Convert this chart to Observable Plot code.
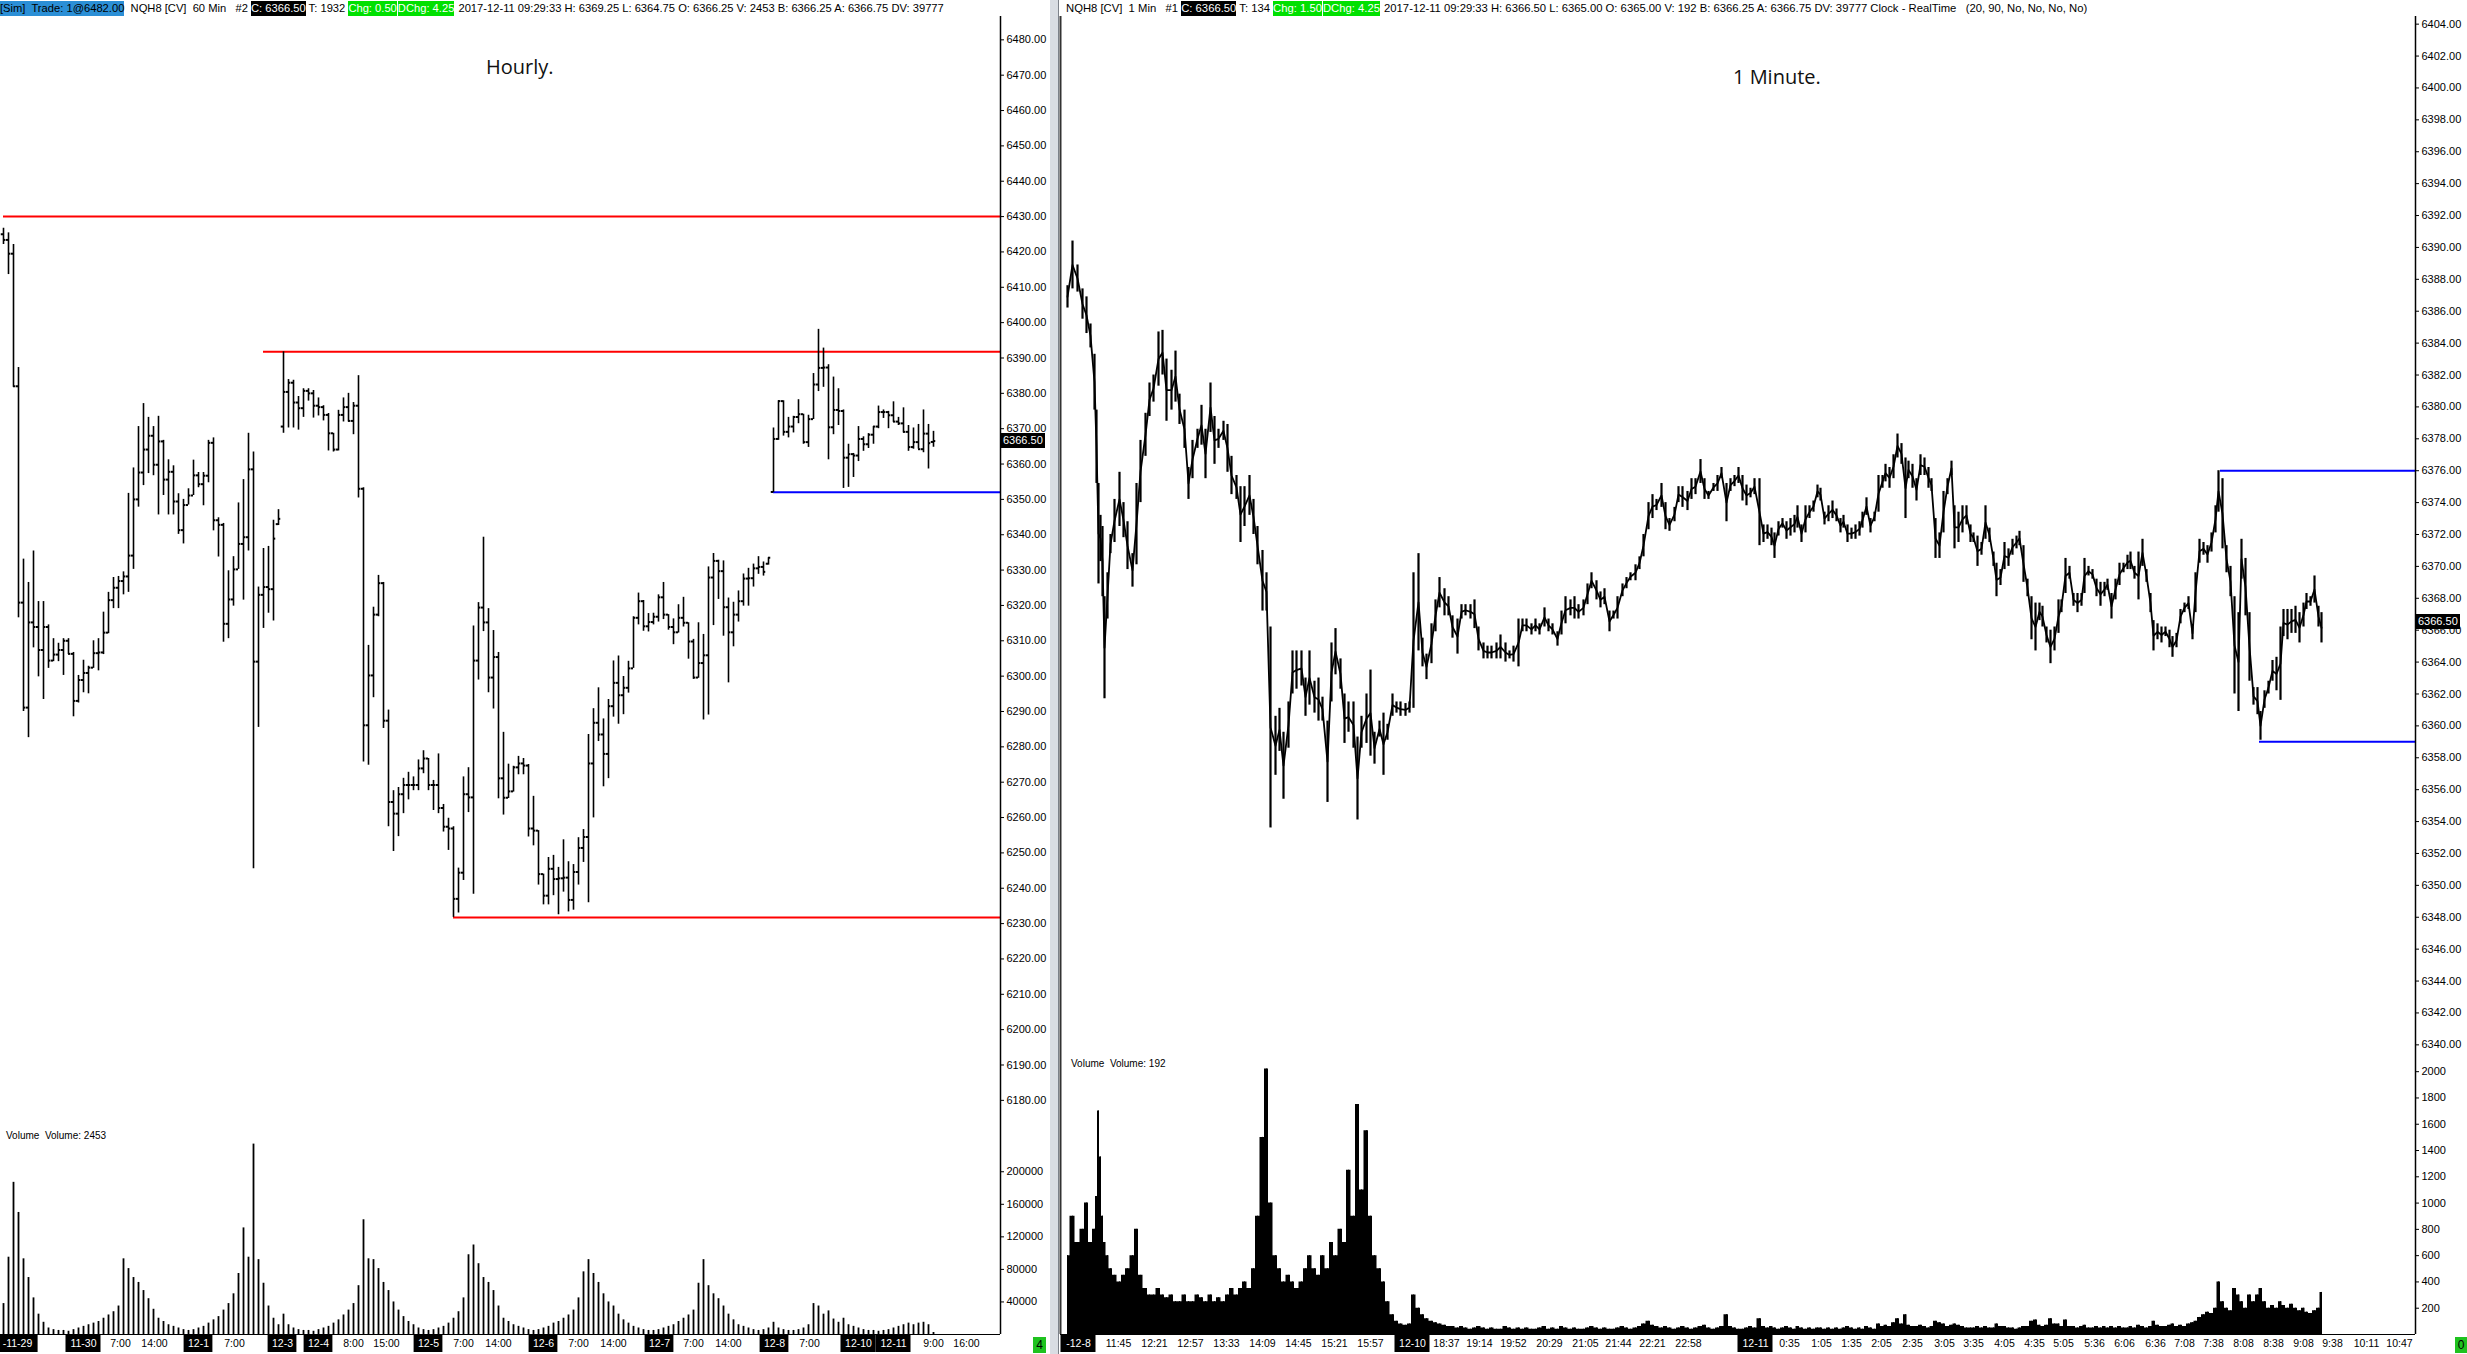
<!DOCTYPE html>
<html><head><meta charset="utf-8">
<script src="https://cdn.jsdelivr.net/npm/d3@7"></script>
<script src="https://cdn.jsdelivr.net/npm/@observablehq/plot@0.6"></script>
<style>
html,body{margin:0;padding:0;background:#fff}
#root{position:relative;width:2467px;height:1354px;overflow:hidden;background:#fff;font-family:"Liberation Sans",Arial,sans-serif}
.hdr{position:absolute;top:1px;height:15px;line-height:15px;font-size:11.3px;white-space:pre;color:#000;width:max-content}
.hdr span{display:inline-block;height:15px}
.blk{background:#000;color:#fff}
.grn{background:#00e000;color:#fff;margin-right:1px}
.blu{background:#2b8fd6;color:#000}
.ttl{position:absolute;font-family:"Open Sans",sans-serif;font-size:20px;color:#111;white-space:pre}
.vlab{position:absolute;font-size:10px;color:#000;white-space:pre}
.pbox{position:absolute;background:#000;color:#fff;font-size:11px;height:15px;line-height:15px;padding:0 2px}
.gbox{position:absolute;background:#1fc21f;color:#000;font-size:12px;height:16px;line-height:16px;text-align:center}
.abs{position:absolute}
</style></head><body><div id="root"></div>
<script>
// ---------------- DATA ----------------
const leftHeader = [["blu","[Sim]  Trade: 1@6482.00"],["","  NQH8 [CV]  60 Min   #2 "],["blk","C: 6366.50"],[""," T: 1932 "],["grn","Chg: 0.50"],["grn","DChg: 4.25"],[""," 2017-12-11 09:29:33 H: 6369.25 L: 6364.75 O: 6366.25 V: 2453 B: 6366.25 A: 6366.75 DV: 39777"]];
const rightHeader = [["","NQH8 [CV]  1 Min   #1 "],["blk","C: 6366.50"],[""," T: 134 "],["grn","Chg: 1.50"],["grn","DChg: 4.25"],[""," 2017-12-11 09:29:33 H: 6366.50 L: 6365.00 O: 6365.00 V: 192 B: 6366.25 A: 6366.75 DV: 39777 Clock - RealTime   (20, 90, No, No, No, No)"]];
const leftTitle = "Hourly.";
const rightTitle = "1 Minute.";
const leftVolLabel = "Volume  Volume: 2453";
const rightVolLabel = "Volume  Volume: 192";
const lastPrice = 6366.5;

// Hourly (60 min) OHLC bars
const lOpen = [6425.0,6423.4,6419.5,6382.0,6320.8,6291.1,6315.2,6313.9,6307.4,6313.9,6304.4,6306.1,6307.4,6310.0,6306.3,6293.0,6298.9,6300.9,6302.4,6306.5,6306.7,6312.3,6321.5,6325.0,6326.9,6328.2,6334.1,6350.0,6357.6,6364.1,6368.0,6359.8,6366.4,6355.6,6357.8,6349.4,6341.3,6348.4,6351.1,6356.8,6354.3,6356.7,6366.0,6344.1,6342.8,6314.8,6321.7,6330.2,6337.4,6339.3,6358.5,6304.1,6323.0,6325.2,6324.6,6343.0,6370.6,6380.4,6383.0,6377.4,6375.8,6380.7,6380.0,6376.5,6376.1,6373.9,6368.7,6364.1,6373.9,6376.1,6372.2,6376.5,6353.0,6286.1,6300.2,6317.4,6326.3,6287.4,6264.4,6261.1,6266.6,6269.2,6269.2,6269.2,6273.9,6276.7,6269.2,6269.2,6262.7,6257.4,6256.9,6237.0,6244.4,6266.6,6265.7,6304.4,6319.4,6315.2,6299.6,6305.4,6271.1,6265.6,6267.4,6274.2,6275.3,6274.7,6256.9,6256.3,6244.0,6237.9,6245.5,6242.6,6242.8,6243.0,6236.7,6244.6,6251.4,6254.5,6275.3,6286.8,6283.5,6278.0,6291.5,6298.1,6294.6,6296.7,6302.2,6316.5,6321.2,6314.1,6315.3,6316.8,6322.3,6317.4,6313.9,6312.4,6316.5,6315.1,6309.8,6299.6,6303.7,6305.9,6327.9,6332.6,6329.7,6319.5,6312.4,6317.4,6321.2,6327.6,6327.7,6330.5,6330.9,6331.8,6352.1,6367.1,6377.8,6369.1,6370.6,6373.3,6374.1,6366.2,6372.7,6382.5,6387.2,6387.3,6370.4,6375.3,6375.0,6361.8,6362.8,6362.4,6367.1,6365.6,6368.3,6370.6,6374.7,6374.7,6373.8,6372.0,6371.5,6369.1,6364.8,6366.2,6364.2,6368.6,6366.25];
const lHigh = [6426.7,6425.4,6422.1,6387.3,6333.1,6326.5,6335.4,6321.1,6321.1,6314.5,6310.6,6309.3,6310.6,6310.6,6306.7,6300.2,6304.5,6302.8,6310.0,6310.6,6318.1,6323.7,6327.9,6328.2,6329.5,6351.7,6358.9,6370.6,6377.1,6373.2,6370.6,6373.5,6366.7,6361.2,6359.5,6351.6,6350.0,6353.0,6361.1,6357.6,6357.6,6366.7,6367.4,6344.8,6343.2,6329.8,6333.8,6349.0,6355.6,6368.7,6363.4,6325.2,6336.1,6336.7,6344.1,6347.1,6391.75,6383.9,6383.7,6379.1,6381.3,6381.3,6380.8,6378.7,6376.5,6374.3,6368.7,6375.2,6378.7,6380.0,6377.4,6385.0,6353.3,6308.7,6319.5,6328.5,6326.5,6290.4,6267.6,6268.5,6271.1,6272.8,6271.5,6276.3,6278.9,6276.7,6270.5,6278.0,6263.7,6259.8,6257.4,6245.7,6271.5,6274.1,6314.2,6320.8,6339.3,6319.1,6312.9,6306.7,6284.1,6275.1,6274.5,6277.3,6276.7,6275.0,6266.0,6256.3,6244.0,6248.7,6249.3,6245.9,6253.7,6247.5,6246.7,6254.3,6256.6,6283.5,6290.8,6296.7,6287.9,6293.4,6304.3,6305.7,6299.9,6304.2,6316.8,6323.5,6321.4,6317.7,6317.8,6323.0,6326.5,6317.4,6316.2,6320.2,6322.3,6315.1,6310.4,6315.1,6311.8,6330.9,6334.7,6332.8,6332.6,6322.1,6320.9,6324.1,6328.9,6330.5,6331.7,6333.8,6332.3,6333.5,6370.2,6377.9,6377.9,6373.2,6373.5,6378.2,6374.1,6373.8,6385.6,6398.1,6392.8,6388.1,6384.6,6381.3,6375.3,6365.6,6363.0,6370.6,6367.7,6368.6,6370.6,6376.4,6375.3,6374.9,6377.6,6373.2,6375.9,6370.9,6370.2,6371.2,6375.3,6371.2,6369.25];
const lLow = [6422.1,6413.6,6381.7,6316.5,6290.0,6282.6,6308.0,6299.8,6293.4,6302.2,6304.1,6304.1,6300.2,6306.1,6288.5,6292.4,6295.3,6295.0,6302.2,6301.5,6306.1,6312.0,6319.1,6319.1,6323.0,6323.7,6330.2,6347.8,6353.9,6357.3,6356.7,6345.6,6351.1,6345.6,6345.6,6340.1,6337.4,6348.4,6351.1,6353.3,6348.2,6354.7,6341.1,6333.7,6309.6,6310.6,6319.8,6330.2,6321.5,6335.4,6245.5,6285.5,6313.5,6317.8,6315.6,6342.6,6368.7,6370.2,6370.2,6369.6,6373.2,6377.8,6373.0,6373.6,6372.2,6363.7,6363.4,6363.7,6371.9,6371.9,6368.3,6350.4,6275.7,6274.8,6293.9,6316.8,6285.2,6257.4,6250.4,6254.6,6261.1,6265.0,6267.6,6267.6,6272.4,6267.6,6262.0,6261.1,6255.9,6250.7,6231.75,6233.0,6242.2,6261.4,6238.3,6298.9,6312.6,6295.3,6290.7,6265.3,6260.7,6265.4,6267.2,6272.1,6272.1,6254.5,6252.0,6240.9,6235.3,6235.3,6237.9,6232.5,6238.9,6233.3,6233.8,6240.9,6247.3,6235.9,6259.9,6281.5,6268.7,6271.0,6288.4,6286.4,6289.1,6295.2,6302.2,6314.5,6312.7,6312.5,6314.5,6315.3,6316.0,6313.0,6308.9,6312.2,6313.9,6304.8,6299.1,6299.4,6287.6,6289.0,6314.3,6321.7,6311.3,6298.1,6308.3,6315.3,6319.8,6319.8,6325.2,6328.8,6328.3,6331.4,6351.9,6366.7,6367.9,6367.4,6368.8,6371.4,6365.6,6364.7,6372.6,6380.5,6381.7,6361.2,6368.3,6370.9,6353.1,6353.4,6356.2,6360.7,6363.6,6364.4,6365.6,6370.0,6372.9,6370.0,6371.8,6370.9,6368.8,6363.6,6364.2,6364.2,6363.2,6358.6,6364.75];
const lClose = [6423.4,6419.5,6382.0,6320.8,6291.1,6315.2,6313.9,6307.4,6313.9,6304.4,6306.1,6307.4,6310.0,6306.3,6293.0,6298.9,6300.9,6302.4,6306.5,6306.7,6312.3,6321.5,6325.0,6326.9,6328.2,6334.1,6350.0,6357.6,6364.1,6368.0,6359.8,6366.4,6355.6,6357.8,6349.4,6341.3,6348.4,6351.1,6356.8,6354.3,6356.7,6366.0,6344.1,6342.8,6314.8,6321.7,6330.2,6337.4,6339.3,6358.5,6304.1,6323.0,6325.2,6324.6,6338.9,6344.5,6380.4,6383.0,6377.4,6375.8,6380.7,6380.0,6376.5,6376.1,6373.9,6368.7,6364.1,6373.9,6376.1,6372.2,6376.5,6353.0,6286.1,6300.2,6317.4,6326.3,6287.4,6264.4,6261.1,6266.6,6269.2,6269.2,6269.2,6273.9,6276.7,6269.2,6269.2,6262.7,6257.4,6256.9,6237.0,6244.4,6266.6,6265.7,6304.4,6319.4,6315.2,6299.6,6305.4,6271.1,6265.6,6267.4,6274.2,6275.3,6274.7,6256.9,6256.3,6244.0,6237.9,6245.5,6242.6,6242.8,6243.0,6236.7,6244.6,6251.4,6254.5,6275.3,6286.8,6283.5,6278.0,6291.5,6298.1,6294.6,6296.7,6302.2,6316.5,6321.2,6314.1,6315.3,6316.8,6322.3,6317.4,6313.9,6312.4,6316.5,6315.1,6309.8,6299.6,6303.7,6305.9,6327.9,6332.6,6329.7,6319.5,6312.4,6317.4,6321.2,6327.6,6327.7,6330.5,6330.9,6329.5,6333.5,6367.1,6377.8,6369.1,6370.6,6373.3,6374.1,6366.2,6372.7,6382.5,6387.2,6387.3,6370.4,6375.3,6375.0,6361.8,6362.8,6362.4,6367.1,6365.6,6368.3,6370.6,6374.7,6374.7,6373.8,6372.0,6371.5,6369.1,6364.8,6366.2,6364.2,6368.6,6365.9,6366.5];
const lVol = [38000,95000,187000,150000,93000,70000,45000,25000,15000,8000,6000,5000,5000,4000,6000,8000,10000,12000,14000,16000,20000,24000,28000,35000,93000,81000,70000,64000,54000,44000,31000,20000,16000,12000,10000,8000,6000,5000,6000,8000,10000,14000,18000,22000,30000,38000,50000,75000,131000,95000,234000,92000,63000,35000,20000,12000,25000,12000,8000,6000,5000,5000,4000,6000,8000,10000,14000,18000,24000,30000,38000,60000,141000,93000,92000,81000,64000,54000,40000,30000,22000,16000,12000,8000,6000,5000,6000,8000,10000,14000,20000,28000,45000,98000,110000,87000,70000,64000,54000,35000,20000,16000,12000,10000,8000,6000,5000,6000,8000,10000,14000,16000,20000,24000,30000,45000,77000,92000,75000,64000,50000,40000,35000,25000,18000,14000,10000,8000,6000,5000,5000,6000,8000,10000,12000,16000,20000,24000,30000,63000,92000,60000,50000,44000,35000,25000,18000,12000,10000,8000,6000,5000,6000,8000,15000,8000,6000,5000,5000,6000,8000,12000,38000,35000,25000,29000,19000,15000,20000,12000,10000,8000,6000,5000,5000,4000,5000,6000,8000,10000,12000,14000,12000,14000,15000,12000,2453];
const lRedLevel = [6430, 6391.75, 6231.75];
const lRedFrom = [0, 52, 90];
const lBlueLevel = [6352];
const lBlueFrom = [154];
const lPriceTicks = d3.range(6180, 6481, 10);
const lVolTicks = [40000, 80000, 120000, 160000, 200000];
const lTimeText = ["-11-29","11-30","7:00","14:00","12-1","7:00","12-3","12-4","8:00","15:00","12-5","7:00","14:00","12-6","7:00","14:00","12-7","7:00","14:00","12-8","7:00","12-10","12-11","9:00","16:00"];
const lTimeAt = [2.8,16,23.4,30.2,39,46.2,55.8,63,70,76.6,85,92,99,108,115,122,131.2,138,145,154.2,161.2,171,178,186,192.6];

// 1-minute chart, read as ranges per ~4-minute slice (minute index from first bar)
const rMin = [2,7,12,17,21,25,29,31,33,35,37,39,42,45,49,54,58,62,67,71,75,80,84,88,93,97,101,106,110,114,119,123,127,132,136,140,145,149,153,158,162,166,171,175,179,184,188,192,197,201,205,210,214,218,223,227,231,236,240,244,249,253,257,262,266,270,275,279,283,288,292,296,301,305,309,314,318,322,327,331,335,340,344,348,353,357,361,366,370,374,379,383,387,392,396,400,405,409,413,418,422,426,431,435,440,444,448,453,457,461,466,470,474,479,483,487,492,496,500,505,509,513,518,522,526,531,535,539,544,548,552,557,561,565,570,574,578,583,587,591,596,600,604,609,613,617,622,626,630,635,639,643,648,652,656,661,665,669,673,677,681,685,689,694,698,702,706,709,713,717,721,725,729,732,736,740,744,748,752,755,759,763,767,771,775,778,782,786,790,794,797,801,805,809,813,817,820,824,828,832,836,840,843,847,851,855,859,863,866,870,874,878,882,886,889,893,897,901,905,908,912,916,920,924,928,931,935,939,943,947,951,954,958,962,966,970,974,977,981,985,989,993,996,1000,1004,1008,1012,1016,1019,1023,1027,1031,1035,1039,1042,1046,1050,1054,1058,1062,1065,1069,1073,1077,1081,1085,1088,1092,1096,1100,1104,1107,1111,1115,1119,1123,1127,1130,1134,1138,1142,1146,1150,1153,1157,1161,1165,1169,1173,1176,1180,1184,1188,1192,1195,1199,1203,1207,1211,1215,1218,1222,1226,1230,1234,1238,1241,1245,1249,1253,1256];
const rHigh = [6387.6,6390.4,6388.9,6387.4,6386.9,6385.2,6383.3,6379.8,6375.2,6373.2,6372.5,6368.1,6369.6,6372.0,6374.2,6375.9,6374.0,6372.8,6370.8,6375.2,6377.9,6379.6,6381.5,6382.0,6384.7,6384.8,6383.0,6382.3,6383.5,6380.8,6379.8,6376.2,6377.9,6378.6,6380.1,6378.6,6381.5,6379.4,6378.6,6379.1,6378.9,6376.9,6375.7,6375.0,6375.0,6375.7,6374.2,6372.5,6371.0,6369.6,6366.2,6360.6,6361.1,6359.6,6361.5,6364.7,6364.7,6364.7,6363.0,6364.7,6362.8,6363.0,6361.8,6360.3,6365.2,6366.1,6364.2,6362.0,6361.5,6361.5,6359.3,6360.6,6362.0,6363.5,6359.6,6360.3,6360.8,6360.1,6362.0,6361.5,6361.5,6361.4,6361.5,6369.6,6370.8,6365.5,6364.5,6366.4,6367.9,6369.3,6368.6,6368.1,6366.9,6366.7,6367.6,6367.6,6367.6,6367.9,6366.2,6365.2,6365.0,6365.0,6365.2,6365.7,6365.2,6364.7,6365.0,6366.7,6366.7,6366.7,6366.4,6366.7,6366.4,6367.4,6366.7,6366.4,6365.9,6367.2,6368.1,6367.9,6368.1,6367.6,6367.9,6368.9,6369.6,6369.1,6368.4,6368.6,6367.2,6367.2,6368.1,6368.9,6369.3,6369.6,6370.1,6370.6,6372.0,6374.0,6374.5,6374.2,6375.2,6374.0,6373.0,6373.7,6375.0,6375.0,6374.7,6375.5,6375.5,6376.7,6375.5,6374.7,6375.2,6375.7,6376.2,6375.2,6375.5,6375.7,6376.2,6375.7,6375.1,6374.9,6375.5,6375.5,6372.6,6372.6,6372.4,6372.1,6372.8,6373.0,6372.8,6373.0,6373.2,6373.8,6372.6,6373.8,6373.8,6374.1,6375.1,6374.9,6373.4,6373.8,6374.1,6373.6,6373.0,6373.2,6372.6,6372.4,6372.6,6372.8,6373.4,6374.3,6373.0,6373.4,6375.7,6375.7,6376.4,6376.2,6377.0,6378.3,6377.7,6376.8,6376.6,6376.4,6375.5,6377.0,6376.8,6376.2,6375.5,6373.0,6372.1,6374.7,6375.5,6376.6,6373.8,6373.4,6373.8,6373.8,6372.6,6372.1,6371.9,6371.5,6373.8,6372.4,6370.9,6370.2,6369.8,6371.5,6371.1,6371.7,6371.9,6372.2,6371.3,6369.2,6368.1,6367.7,6367.7,6367.5,6366.2,6366.0,6366.2,6367.9,6367.9,6370.5,6370.0,6368.3,6368.3,6368.3,6370.5,6370.0,6369.8,6369.2,6369.0,6369.0,6369.2,6368.3,6369.2,6370.2,6370.2,6370.7,6370.9,6370.0,6370.9,6371.7,6369.8,6368.3,6366.6,6366.4,6366.2,6366.2,6366.0,6365.6,6365.8,6367.3,6367.7,6368.1,6366.2,6369.6,6371.7,6371.5,6371.3,6372.1,6373.8,6376.0,6375.5,6371.3,6370.0,6368.1,6367.1,6371.7,6370.5,6367.1,6362.4,6362.4,6360.9,6362.2,6362.8,6364.1,6364.3,6366.2,6367.3,6367.3,6367.3,6367.5,6367.1,6367.7,6368.3,6368.1,6369.4,6367.5,6367.1];
const rLow = [6386.2,6387.4,6387.2,6385.5,6384.6,6383.7,6379.8,6375.2,6368.9,6370.3,6368.1,6361.7,6366.7,6370.8,6371.5,6372.5,6371.8,6369.8,6368.7,6370.1,6374.0,6376.9,6379.4,6380.3,6381.3,6382.0,6379.1,6379.8,6380.3,6378.9,6377.4,6374.2,6375.5,6377.4,6377.6,6375.5,6378.4,6376.4,6377.4,6377.9,6375.9,6374.5,6374.2,6371.5,6372.5,6373.2,6372.0,6370.1,6367.2,6367.2,6353.6,6356.9,6358.4,6355.4,6358.6,6362.0,6362.3,6362.5,6360.6,6361.3,6360.8,6360.3,6360.3,6355.2,6361.5,6363.2,6362.3,6358.9,6359.6,6358.6,6354.1,6358.6,6358.9,6358.1,6357.6,6359.3,6356.9,6359.1,6360.6,6360.8,6360.6,6360.6,6360.8,6361.1,6364.7,6363.7,6362.9,6363.9,6365.9,6367.4,6366.9,6366.9,6365.5,6364.5,6366.7,6366.9,6366.7,6366.1,6364.7,6364.2,6364.2,6364.2,6364.2,6364.2,6364.0,6364.2,6364.0,6363.7,6365.9,6365.9,6365.7,6365.9,6365.7,6366.2,6365.9,6365.7,6365.0,6365.7,6366.4,6366.9,6366.7,6366.7,6366.9,6367.6,6368.6,6367.9,6367.4,6367.6,6365.9,6366.7,6366.7,6368.1,6368.6,6369.1,6369.1,6369.8,6370.6,6372.3,6373.0,6373.5,6373.7,6372.3,6372.2,6372.8,6374.0,6373.7,6373.5,6374.2,6374.5,6375.2,6374.2,6374.2,6374.7,6374.7,6375.5,6372.8,6374.7,6375.0,6375.2,6374.1,6373.8,6374.3,6374.5,6371.3,6371.5,6371.7,6371.3,6370.5,6371.9,6372.4,6371.7,6371.9,6372.1,6372.4,6371.5,6372.1,6373.0,6373.4,6374.3,6374.1,6372.6,6372.8,6373.0,6372.8,6372.1,6372.4,6371.5,6371.7,6371.7,6371.9,6372.4,6373.2,6372.1,6372.8,6373.4,6374.9,6375.3,6374.9,6375.5,6376.8,6376.4,6373.0,6375.5,6374.9,6374.1,6375.7,6375.7,6374.9,6374.7,6370.5,6370.5,6372.1,6374.5,6375.7,6371.1,6371.5,6372.1,6372.6,6371.5,6371.5,6370.0,6370.7,6371.7,6371.5,6370.0,6368.1,6368.8,6369.8,6370.0,6370.7,6371.1,6371.3,6369.0,6368.1,6365.4,6364.7,6366.6,6366.2,6365.2,6363.9,6364.7,6365.8,6367.1,6368.3,6369.2,6367.5,6367.1,6367.5,6368.3,6369.4,6369.2,6368.1,6367.5,6368.1,6368.5,6366.7,6367.9,6368.8,6369.6,6369.8,6369.8,6369.2,6367.9,6370.0,6369.0,6367.1,6364.7,6365.4,6365.2,6365.6,6364.9,6364.3,6364.9,6366.4,6367.1,6367.3,6365.4,6367.1,6370.2,6370.7,6370.2,6370.9,6372.1,6373.4,6371.1,6369.6,6368.1,6362.0,6360.9,6369.2,6366.9,6362.8,6361.3,6360.7,6359.1,6361.1,6362.0,6362.8,6362.2,6361.6,6365.6,6365.4,6365.8,6365.8,6365.2,6366.2,6367.3,6367.5,6367.7,6366.2,6365.2];
const rVol = [600,900,700,800,1000,700,800,1050,1700,1350,900,700,600,500,450,400,450,500,600,800,450,350,300,300,350,300,280,300,250,250,300,250,250,300,280,250,300,250,280,250,300,350,300,350,400,350,500,900,1500,2020,1000,600,500,400,450,400,350,400,500,600,500,450,600,500,700,600,800,700,1250,900,1750,1100,1550,900,600,500,400,250,150,100,80,70,80,300,200,150,120,100,90,80,70,60,60,50,60,50,40,50,60,50,40,50,40,40,60,50,40,50,40,50,40,40,50,60,40,50,40,60,50,40,50,40,40,50,60,50,40,50,40,40,50,60,50,40,50,60,80,100,70,60,50,60,50,40,50,60,50,40,50,60,70,50,40,50,60,150,60,50,40,40,50,60,50,120,60,50,60,50,40,50,60,50,40,60,50,40,50,40,50,50,40,50,40,50,40,50,60,50,40,50,40,60,50,40,80,60,70,60,90,120,80,150,70,60,60,70,60,50,60,100,90,80,60,70,80,70,60,50,50,50,60,50,60,50,50,80,60,60,50,50,40,50,60,60,100,110,70,60,70,120,80,80,60,110,60,60,50,60,70,50,50,60,50,60,50,60,50,60,50,50,60,50,70,60,50,60,100,70,60,60,70,80,60,70,60,80,90,100,130,150,170,160,200,400,250,200,180,350,300,250,200,300,250,300,350,250,200,220,200,250,220,200,230,200,180,200,170,160,180,200,320];
const rBlueLevel = [6376, 6359];
const rBlueFrom = [1155, 1194];
const rPriceTicks = d3.range(6340, 6405, 2);
const rVolTicks = d3.range(200, 2001, 200);
const rTimeText = ["-12-8","11:45","12:21","12:57","13:33","14:09","14:45","15:21","15:57","12-10","18:37","19:14","19:52","20:29","21:05","21:44","22:21","22:58","12-11","0:35","1:05","1:35","2:05","2:35","3:05","3:35","4:05","4:35","5:05","5:36","6:06","6:36","7:08","7:38","8:08","8:38","9:08","9:38","10:11","10:47"];
const rTimeAt = [13,53,89,125,161,197,233,269,305,347,381,414,448,484,520,553,587,623,690,724,756,786,816,847,879,908,939,969,998,1029,1059,1090,1119,1148,1178,1208,1238,1267,1301,1334];

// ---------------- RENDER ----------------
const root = document.getElementById("root");
function put(el, left, top) { el.style.position = "absolute"; el.style.left = left + "px"; el.style.top = top + "px"; root.appendChild(el); return el; }
function div(cls, text) { const d = document.createElement("div"); d.className = cls; if (text != null) d.textContent = text; return d; }
const S = {background: "transparent", color: "#000", fontFamily: "'Liberation Sans', Arial, sans-serif", fontSize: "11px", overflow: "visible"};

const sep = div("abs"); sep.style.cssText += "width:8px;height:1354px;background:#d9dde3;border-right:1px solid #7d828a"; put(sep, 1050, 0);

// header line fitted to the width it spans in the original
function header(parts, left, targetWidth) {
  const h = div("hdr");
  parts.forEach(([c, t]) => { const s = document.createElement("span"); if (c) s.className = c; s.textContent = t; h.appendChild(s); });
  put(h, left, 1);
  let fs = 11;
  for (let k = 0; k < 4; k++) {
    h.style.fontSize = fs + "px";
    const w = h.getBoundingClientRect().width;
    if (w > 0) fs = fs * targetWidth / w;
  }
  h.style.fontSize = fs + "px";
}

// ---- left (hourly) ----
const LX = [-0.6, 199.4];
const lBars = lOpen.map((o, i) => ({i, o, h: lHigh[i], l: lLow[i], c: lClose[i]}));
const lRed = lRedLevel.map((p, k) => ({p, s: lRedFrom[k]}));
const lBlue = lBlueLevel.map((p, k) => ({p, s: lBlueFrom[k]}));
const leftPrice = Plot.plot({
  width: 1050, height: 1104, marginTop: 0, marginBottom: 0, marginLeft: 0, marginRight: 50,
  x: {domain: LX, axis: null}, y: {domain: [6174.3, 6486.6], axis: null}, style: S,
  marks: [
    Plot.ruleY(lRed, {y: "p", x1: "s", x2: LX[1], stroke: "#ff0000", strokeWidth: 2}),
    Plot.ruleY(lBlue, {y: "p", x1: "s", x2: LX[1], stroke: "#0000ff", strokeWidth: 2}),
    Plot.ruleX(lBars, {x: "i", y1: "l", y2: "h", stroke: "#000", strokeWidth: 1.6}),
    Plot.ruleY(lBars, {y: "o", x1: d => d.i - 0.45, x2: "i", stroke: "#000", strokeWidth: 2}),
    Plot.ruleY(lBars, {y: "c", x1: "i", x2: d => d.i + 0.45, stroke: "#000", strokeWidth: 2}),
    Plot.ruleX([LX[1]], {stroke: "#000", strokeWidth: 1.5}),
    Plot.axisY({anchor: "right", label: null, ticks: lPriceTicks, tickFormat: d => d.toFixed(2), tickSize: 3, tickPadding: 3})
  ]
});
put(leftPrice, 0, 16);

const lVolData = lVol.map((v, i) => ({i, v}));
const leftVol = Plot.plot({
  width: 1050, height: 214, marginTop: 0, marginBottom: 0, marginLeft: 0, marginRight: 50,
  x: {domain: LX, axis: null}, y: {domain: [0, 263000], axis: null}, style: S,
  marks: [
    Plot.ruleX(lVolData, {x: "i", y1: 0, y2: "v", stroke: "#000", strokeWidth: 1.8}),
    Plot.ruleX([LX[1]], {stroke: "#000", strokeWidth: 1.5}),
    Plot.ruleY([0], {x1: LX[0], x2: LX[1], stroke: "#000", strokeWidth: 1}),
    Plot.axisY({anchor: "right", label: null, ticks: lVolTicks, tickFormat: d => String(d), tickSize: 3, tickPadding: 3})
  ]
});
put(leftVol, 0, 1120);

function timeStrip(texts, at, domain, width, mRight, pxPerUnit) {
  const data = texts.map((t, k) => ({t, x: at[k], box: t.includes("-")}));
  const boxes = data.filter(d => d.box);
  return Plot.plot({
    width, height: 20, marginTop: 0, marginBottom: 0, marginLeft: 0, marginRight: mRight,
    x: {domain, axis: null}, y: {domain: [0, 1], axis: null}, style: {...S, fontSize: "10.5px"},
    marks: [
      Plot.rect(boxes, {x1: d => d.x - (d.t.length * 6.2 + 4) / 2 / pxPerUnit, x2: d => d.x + (d.t.length * 6.2 + 4) / 2 / pxPerUnit, y1: 0.1, y2: 0.95, fill: "#000"}),
      Plot.text(data, {x: "x", y: 0.52, text: "t", fill: d => d.box ? "#fff" : "#000", fontSize: 10.5})
    ]
  });
}
put(timeStrip(lTimeText, lTimeAt, LX, 1050, 50, 5), 0, 1334);

const lpY = leftPrice.scale("y").apply(lastPrice);
put(div("pbox", lastPrice.toFixed(2)), 1001, 16 + lpY - 7.5);

// ---- right (1 minute) ----
const RX = [-5, 1350];
const rBins = rMin.map((m, k) => ({m, lo: rLow[k], hi: rHigh[k], mid: (rLow[k] + rHigh[k]) / 2}));
const rLines = rBlueLevel.map((p, k) => ({p, s: rBlueFrom[k]}));
const rightPrice = Plot.plot({
  width: 1407, height: 1036, marginTop: 0, marginBottom: 0, marginLeft: 0, marginRight: 52,
  x: {domain: RX, axis: null}, y: {domain: [6339.52, 6404.48], axis: null}, style: S,
  marks: [
    Plot.ruleY(rLines, {y: "p", x1: "s", x2: RX[1], stroke: "#0000ff", strokeWidth: 2}),
    Plot.ruleX(rBins, {x: "m", y1: "lo", y2: "hi", stroke: "#000", strokeWidth: 2.2}),
    Plot.line(rBins, {x: "m", y: "mid", stroke: "#000", strokeWidth: 1.8}),
    Plot.ruleX([RX[0]], {stroke: "#333", strokeWidth: 2}),
    Plot.ruleX([RX[1]], {stroke: "#000", strokeWidth: 1.5}),
    Plot.axisY({anchor: "right", label: null, ticks: rPriceTicks, tickFormat: d => d.toFixed(2), tickSize: 3, tickPadding: 3})
  ]
});
put(rightPrice, 1060, 16);

const rVolData = rMin.map((m, k) => ({m, v: rVol[k]}));
const rightVol = Plot.plot({
  width: 1407, height: 282, marginTop: 0, marginBottom: 0, marginLeft: 0, marginRight: 52,
  x: {domain: RX, axis: null}, y: {domain: [0, 2146], axis: null}, style: S,
  marks: [
    Plot.areaY(rVolData, {x: "m", y: "v", curve: "step", fill: "#000"}),
    Plot.ruleX(rVolData, {x: "m", y1: 0, y2: "v", stroke: "#000", strokeWidth: 1}),
    Plot.ruleX([RX[0]], {stroke: "#333", strokeWidth: 2}),
    Plot.ruleX([RX[1]], {stroke: "#000", strokeWidth: 1.5}),
    Plot.ruleY([0], {x1: RX[0], x2: RX[1], stroke: "#000", strokeWidth: 1}),
    Plot.axisY({anchor: "right", label: null, ticks: rVolTicks, tickFormat: d => String(d), tickSize: 3, tickPadding: 3})
  ]
});
put(rightVol, 1060, 1052);
put(timeStrip(rTimeText, rTimeAt, RX, 1407, 52, 1), 1060, 1334);

const rpY = rightPrice.scale("y").apply(lastPrice);
put(div("pbox", lastPrice.toFixed(2)), 2416, 16 + rpY - 7.5);

// headers last so they sit above the plots
header(leftHeader, 0, 943);
header(rightHeader, 1066, 1022);

const t1 = put(div("ttl", leftTitle), 0, 53); t1.style.left = (520 - t1.offsetWidth / 2) + "px";
const t2 = put(div("ttl", rightTitle), 0, 63); t2.style.left = (1777 - t2.offsetWidth / 2) + "px";
put(div("vlab", leftVolLabel), 6, 1130);
put(div("vlab", rightVolLabel), 1071, 1058);
const g1 = put(div("gbox", "4"), 1033, 1337); g1.style.width = "13px";
const g2 = put(div("gbox", "0"), 2455, 1337); g2.style.width = "12px";
</script></body></html>
